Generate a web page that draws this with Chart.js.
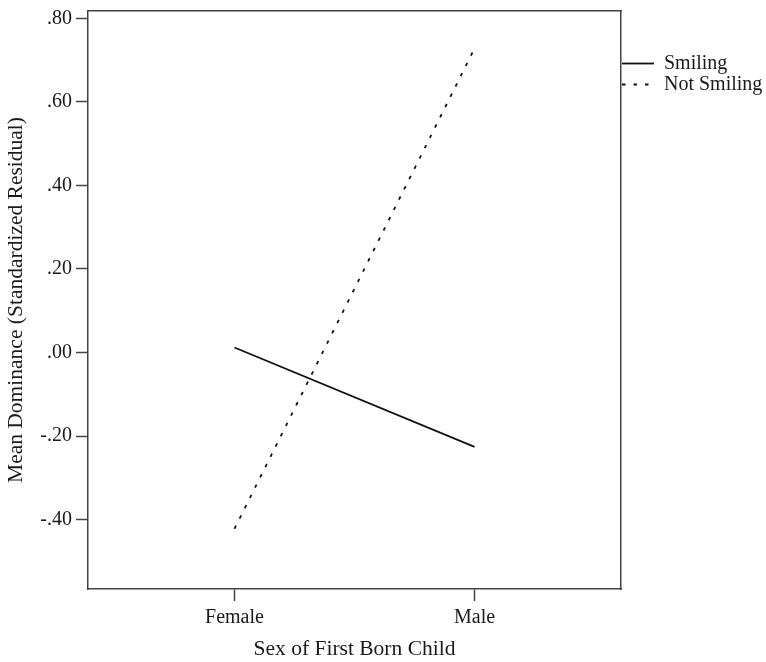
<!DOCTYPE html>
<html>
<head>
<meta charset="utf-8">
<script src="https://cdn.jsdelivr.net/npm/chart.js@4"></script>
<style>
  html, body { margin: 0; padding: 0; background: #fff; }
  #wrap { width: 766px; height: 662px; }
</style>
</head>
<body>
<div id="wrap"><canvas id="chart"></canvas></div>
<script>
/* Mean dominance by sex of first born child — smiling vs not smiling */

const CATEGORIES = ['Female', 'Male'];
const SMILING = [0.012, -0.226];
const NOT_SMILING = [-0.422, 0.728];
const Y_TICKS = [-0.4, -0.2, 0, 0.2, 0.4, 0.6, 0.8];
const Y_RANGE = [-0.566, 0.8175];
const X_RANGE = [-0.61, 1.61];

const INK = '#1a1a1a';
const FRAME = '#444';
const FONT_FAMILY = '"Liberation Serif", "Times New Roman", serif';
const font = size => ({ family: FONT_FAMILY, size: size, lineHeight: 1.2 });

const toPoints = vals => vals.map((v, i) => ({ x: i, y: v }));
const fmtTick = v => v.toFixed(2).replace(/^(-?)0\./, '$1.');

// plain frame axes for top/right edges of the box
const frameAxis = (position) => ({
    type: 'linear',
    position: position,
    min: position === 'top' ? X_RANGE[0] : Y_RANGE[0],
    max: position === 'top' ? X_RANGE[1] : Y_RANGE[1],
    grid: { display: false, drawTicks: false },
    ticks: { display: false },
    border: { color: FRAME, width: 1.5 },
});

// legend lines take the dataset's dash, not the point's
const legendLabels = chart => {
    const items = Chart.defaults.plugins.legend.labels.generateLabels(chart);
    items.forEach(it => {
        const ds = chart.data.datasets[it.datasetIndex];
        it.lineDash = ds.borderDash || [];
        it.lineWidth = ds.borderWidth;
        it.strokeStyle = ds.borderColor;
    });
    return items;
};

new Chart(document.getElementById('chart').getContext('2d'), {
    type: 'line',
    data: {
        datasets: [
            {
                label: 'Smiling',
                data: toPoints(SMILING),
                borderColor: '#111',
                borderWidth: 1.8,
                pointRadius: 0,
                tension: 0,
            },
            {
                label: 'Not Smiling',
                data: toPoints(NOT_SMILING),
                borderColor: '#111',
                borderWidth: 1.8,
                borderDash: [3.5, 8],
                pointRadius: 0,
                tension: 0,
            },
        ],
    },
    options: {
        responsive: true,
        maintainAspectRatio: false,
        devicePixelRatio: 1,
        animation: false,
        layout: { padding: { top: 11, left: 0, right: 0, bottom: 0 } },
        plugins: {
            tooltip: { enabled: false },
            legend: {
                position: 'right',
                align: 'start',
                maxWidth: 145,
                title: { display: true, text: ' ', font: { size: 10, lineHeight: 1 }, padding: { top: 31.5, bottom: 0 } },
                labels: {
                    usePointStyle: true,
                    pointStyle: 'line',
                    pointStyleWidth: 32,
                    color: INK,
                    font: font(20),
                    padding: 1,
                    generateLabels: legendLabels,
                },
            },
        },
        scales: {
            x: {
                type: 'linear',
                position: 'bottom',
                min: X_RANGE[0],
                max: X_RANGE[1],
                afterBuildTicks: s => { s.ticks = CATEGORIES.map((c, i) => ({ value: i })); },
                afterFit: s => { s.height = 73; s.paddingLeft = 0; s.paddingRight = 0; },
                ticks: { callback: v => CATEGORIES[v], color: INK, font: font(20), padding: 5, maxRotation: 0, autoSkip: false },
                grid: { drawOnChartArea: false, tickLength: 12, tickColor: FRAME, tickWidth: 1.5 },
                border: { color: FRAME, width: 1.5 },
                title: { display: true, text: 'Sex of First Born Child', color: INK, font: font(21.5), padding: { top: 0, bottom: 0 } },
            },
            y: {
                type: 'linear',
                position: 'left',
                min: Y_RANGE[0],
                max: Y_RANGE[1],
                afterBuildTicks: s => { s.ticks = Y_TICKS.map(v => ({ value: v })); },
                afterFit: s => { s.width = 88; s.paddingTop = 0; s.paddingBottom = 0; },
                ticks: { callback: v => fmtTick(v), color: INK, font: font(20), padding: 4 },
                grid: { drawOnChartArea: false, tickLength: 12, tickColor: FRAME, tickWidth: 1.5 },
                border: { color: FRAME, width: 1.5 },
                title: { display: true, text: 'Mean Dominance (Standardized Residual)', color: INK, font: font(21.5), padding: { top: 3, bottom: 0 } },
            },
            xTop: frameAxis('top'),
            yRight: frameAxis('right'),
        },
    },
});
</script>
</body>
</html>
